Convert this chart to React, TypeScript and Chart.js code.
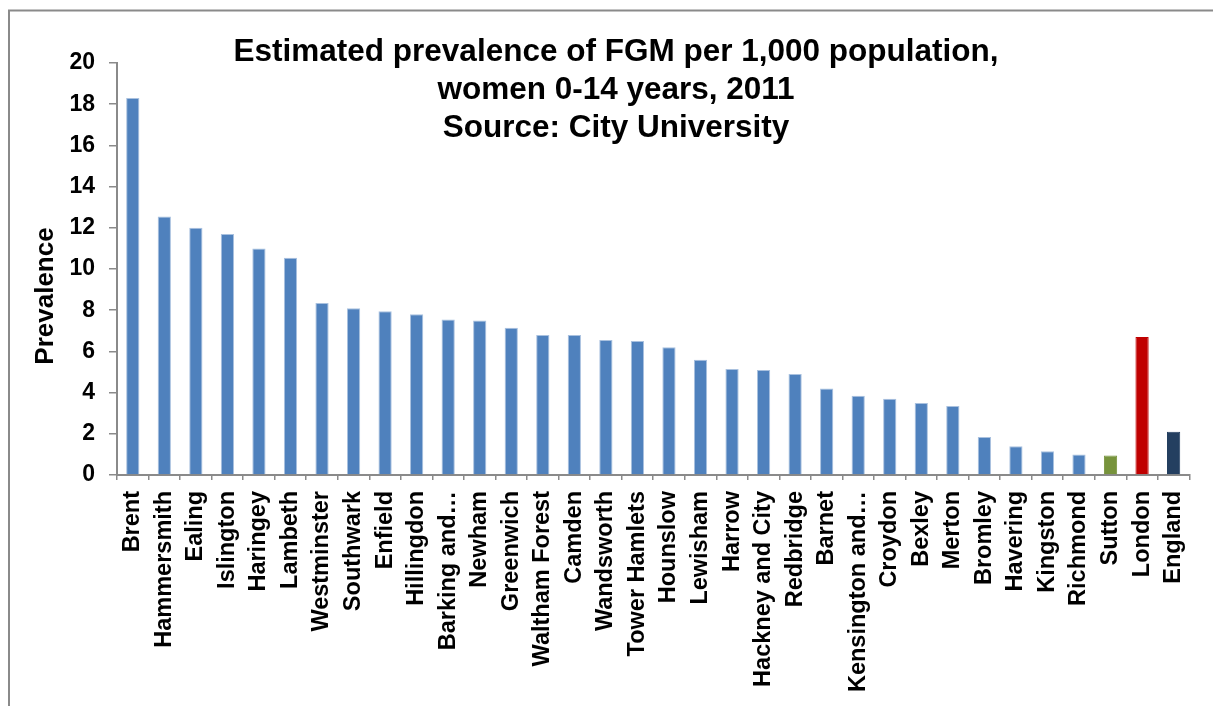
import React, { useEffect, useRef } from "react";
import { Chart, registerables } from "chart.js";

Chart.register(...registerables);

const boroughs = [
  "Brent", "Hammersmith", "Ealing", "Islington", "Haringey", "Lambeth",
  "Westminster", "Southwark", "Enfield", "Hillingdon", "Barking and…", "Newham",
  "Greenwich", "Waltham Forest", "Camden", "Wandsworth", "Tower Hamlets", "Hounslow",
  "Lewisham", "Harrow", "Hackney and City", "Redbridge", "Barnet", "Kensington and…",
  "Croydon", "Bexley", "Merton", "Bromley", "Havering", "Kingston", "Richmond",
  "Sutton", "London", "England",
];

const prevalence = [
  18.3, 12.55, 12.0, 11.7, 11.0, 10.55,
  8.35, 8.1, 7.95, 7.8, 7.55, 7.5,
  7.15, 6.8, 6.8, 6.55, 6.5, 6.2,
  5.6, 5.15, 5.1, 4.9, 4.2, 3.85,
  3.7, 3.5, 3.35, 1.85, 1.4, 1.15, 1.0,
  0.95, 6.7, 2.1,
];

const titleLines = [
  "Estimated prevalence of FGM per 1,000 population,",
  "women 0-14 years, 2011",
  "Source: City University",
];
const yAxisTitle = "Prevalence";

const BLUE = "#4F81BD";
const barColors = prevalence.map((_, i) => {
  const name = boroughs[i];
  if (name === "Sutton") return "#77933C";
  if (name === "London") return "#C00000";
  if (name === "England") return "#243F60";
  return BLUE;
});
const barBorders = barColors.map((c) => (c === BLUE ? "#A9C1DF" : c));

const FONT = "'Liberation Sans', Arial, sans-serif";
const AXIS_GRAY = "#8a8a8a";

const decorPlugin = {
  id: "decor",
  afterDraw(chart: any) {
    const ctx = chart.ctx;
    ctx.save();
    // outer frame
    ctx.strokeStyle = AXIS_GRAY;
    ctx.lineWidth = 2;
    ctx.beginPath();
    ctx.moveTo(9, 706);
    ctx.lineTo(9, 10.5);
    ctx.lineTo(1213, 10.5);
    ctx.stroke();
    // title
    ctx.fillStyle = "#000";
    ctx.font = `bold 31.5px ${FONT}`;
    ctx.textAlign = "center";
    ctx.textBaseline = "alphabetic";
    const baselines = [61, 99, 137];
    titleLines.forEach((t, i) => ctx.fillText(t, 616, baselines[i]));
    // y-axis title
    ctx.font = `bold 26px ${FONT}`;
    ctx.translate(53, 296);
    ctx.rotate(-Math.PI / 2);
    ctx.fillText(yAxisTitle, 0, 0);
    ctx.restore();
  },
};

export default function App() {
  const ref = useRef<HTMLCanvasElement>(null);
  useEffect(() => {
    if (!ref.current) return;
    const chart = new Chart(ref.current, {
      type: "bar",
      data: {
        labels: boroughs,
        datasets: [
          {
            data: prevalence,
            backgroundColor: barColors,
            borderColor: barBorders,
            borderWidth: 1,
            barPercentage: 0.42,
            categoryPercentage: 1,
          },
        ],
      },
      options: {
        animation: false,
        responsive: false,
        devicePixelRatio: 1,
        layout: { padding: { top: 63, right: 13, left: 0, bottom: 0 } },
        plugins: {
          legend: { display: false },
          title: { display: false },
          tooltip: { enabled: false },
        },
        scales: {
          x: {
            afterFit: (s: any) => {
              s.height = 231;
            },
            grid: {
              display: true,
              drawOnChartArea: false,
              drawTicks: true,
              tickLength: 5,
              offset: true,
              color: AXIS_GRAY,
              lineWidth: 1.5,
            },
            border: { display: true, color: AXIS_GRAY, width: 2 },
            ticks: {
              autoSkip: false,
              minRotation: 90,
              maxRotation: 90,
              padding: 11,
              color: "#000",
              font: { family: FONT, size: 23.5, weight: "bold" },
            },
          },
          y: {
            min: 0,
            max: 20,
            afterFit: (s: any) => {
              s.width = 117;
            },
            grid: {
              display: true,
              drawOnChartArea: false,
              drawTicks: true,
              tickLength: 8,
              color: AXIS_GRAY,
              lineWidth: 1.5,
            },
            border: { display: true, color: AXIS_GRAY, width: 2 },
            ticks: {
              stepSize: 2,
              padding: 14,
              color: "#000",
              font: { family: FONT, size: 23, weight: "bold" },
            },
          },
        },
      },
      plugins: [decorPlugin],
    });
    return () => chart.destroy();
  }, []);

  return (
    <div style={{ position: "absolute", left: 0, top: 0, width: 1213, height: 706, background: "#fff" }}>
      <canvas ref={ref} width={1213} height={706} style={{ display: "block" }} />
    </div>
  );
}
